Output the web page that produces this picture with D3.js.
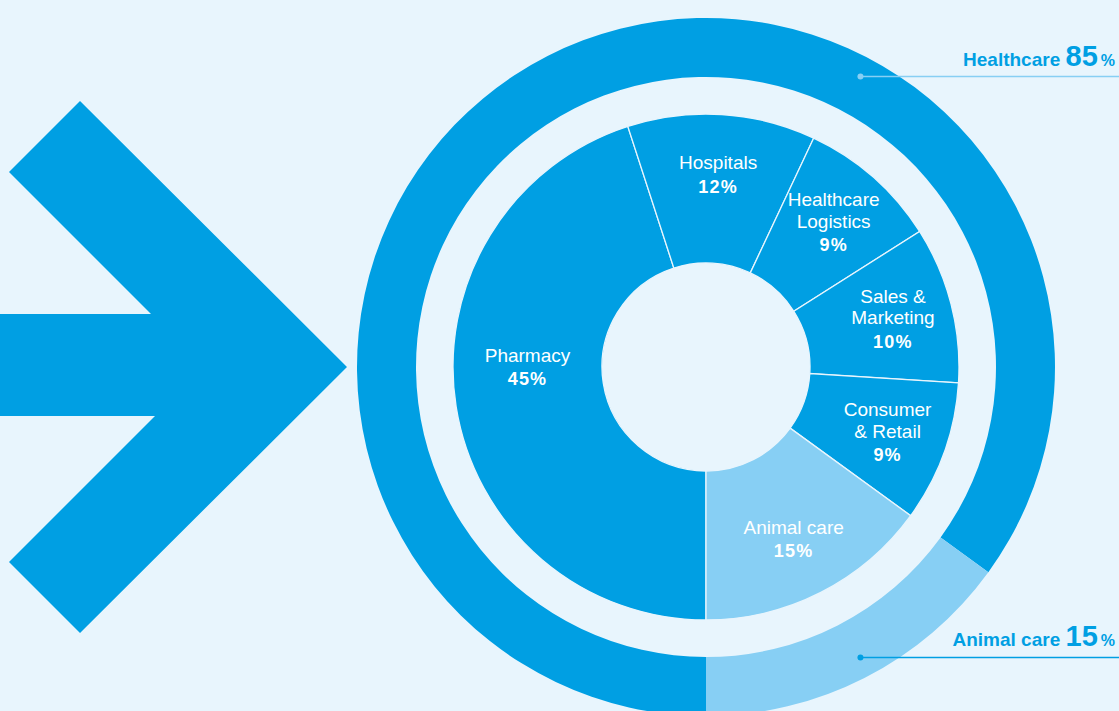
<!DOCTYPE html>
<html>
<head>
<meta charset="utf-8">
<script src="https://cdn.jsdelivr.net/npm/d3@7/dist/d3.min.js"></script>
<style>
  body { margin: 0; background: #e8f5fd; }
  svg { display: block; font-family: 'Liberation Sans', Arial, Helvetica, sans-serif; }
</style>
</head>
<body>
<svg width="1119" height="711"></svg>
<script>
// inner pie: business segments
const segments = ['Pharmacy', 'Hospitals', 'Healthcare\nLogistics', 'Sales &\nMarketing', 'Consumer\n& Retail', 'Animal care'];
const segmentShares = [45, 12, 9, 10, 9, 15];
const segmentGroup = ['Healthcare', 'Healthcare', 'Healthcare', 'Healthcare', 'Healthcare', 'Animal care'];

// outer ring: groups
const groups = ['Healthcare', 'Animal care'];
const groupShares = [85, 15];

const width = 1119;
const height = 711;
const cx = 706, cy = 367;
const rHole = 104, rPie = 253, rRingIn = 290, rRingOut = 349;

const dark = '#009fe3';
const light = '#87cff4';
const bg = '#e8f5fd';
const colour = d3.scaleOrdinal().domain(groups).range([dark, light]);

const svg = d3.select('svg');

// big arrow pointing at the chart
const arrow = [[80, 101], [347, 367], [80, 633], [9, 562], [155, 416], [0, 416],
  [0, 314], [151, 314], [9, 172]];
svg.append('path')
    .attr('d', d3.line()(arrow) + 'Z')
    .attr('fill', dark);

const g = svg.append('g').attr('transform', `translate(${cx},${cy})`);

// start at the bottom and go clockwise
const pie = d3.pie().sort(null).startAngle(Math.PI).endAngle(3 * Math.PI);

const ringData = pie(groupShares);
g.selectAll('path.ring')
  .data(ringData)
  .enter()
  .append('path')
    .attr('class', 'ring')
    .attr('d', d3.arc().innerRadius(rRingIn).outerRadius(rRingOut))
    .attr('fill', (d, i) => colour(groups[i]));

const pieData = pie(segmentShares);
g.selectAll('path.seg')
  .data(pieData)
  .enter()
  .append('path')
    .attr('class', 'seg')
    .attr('d', d3.arc().innerRadius(rHole).outerRadius(rPie))
    .attr('fill', (d, i) => colour(segmentGroup[i]))
    .attr('stroke', bg)
    .attr('stroke-width', 1.3);

// label angle: middle of the slice, wide slices snap to the horizontal
function labelPos(d) {
  const left = 1.5 * Math.PI;
  const wide = d.startAngle <= left && d.endAngle >= left;
  const a = wide ? left : (d.startAngle + d.endAngle) / 2;
  const r = wide ? (rHole + rPie) / 2 : 193;
  return d3.pointRadial(a, r);
}

const lineH = 21.5, pctGap = 24;
pieData.forEach(function (d, i) {
  const lines = segments[i].split('\n');
  const total = (lines.length - 1) * lineH + pctGap;
  const [x, y] = labelPos(d);
  const t = g.append('text')
      .attr('text-anchor', 'middle')
      .attr('fill', '#fff')
      .attr('font-size', 19)
      .attr('transform', `translate(${x},${y - total / 2})`);
  lines.forEach(function (ln, j) {
    t.append('tspan').attr('x', 0).attr('y', j * lineH).attr('dy', '0.35em').text(ln);
  });
  t.append('tspan')
      .attr('x', 0)
      .attr('y', total)
      .attr('dy', '0.35em')
      .attr('font-weight', 'bold')
      .attr('font-size', 18)
      .attr('letter-spacing', 1.2)
      .text(segmentShares[i] + '%');
});

// callouts on the outer ring
const calloutAngle = [28, 152];
const calloutLine = [light, dark];
groups.forEach(function (name, i) {
  const [px, py] = d3.pointRadial(calloutAngle[i] * Math.PI / 180, 329);
  const y = cy + py;
  svg.append('line')
      .attr('x1', cx + px).attr('x2', width)
      .attr('y1', y).attr('y2', y)
      .attr('stroke', calloutLine[i])
      .attr('stroke-width', 1.5);
  svg.append('circle')
      .attr('cx', cx + px).attr('cy', y).attr('r', 3)
      .attr('fill', calloutLine[i]);
  const t = svg.append('text')
      .attr('x', width - 4)
      .attr('y', y - 11)
      .attr('text-anchor', 'end')
      .attr('fill', dark)
      .attr('font-weight', 'bold');
  t.append('tspan').attr('font-size', 19).text(name + ' ');
  t.append('tspan').attr('font-size', 29).text(groupShares[i]);
  t.append('tspan').attr('font-size', 16).attr('dx', 3).text('%');
});
</script>
</body>
</html>
